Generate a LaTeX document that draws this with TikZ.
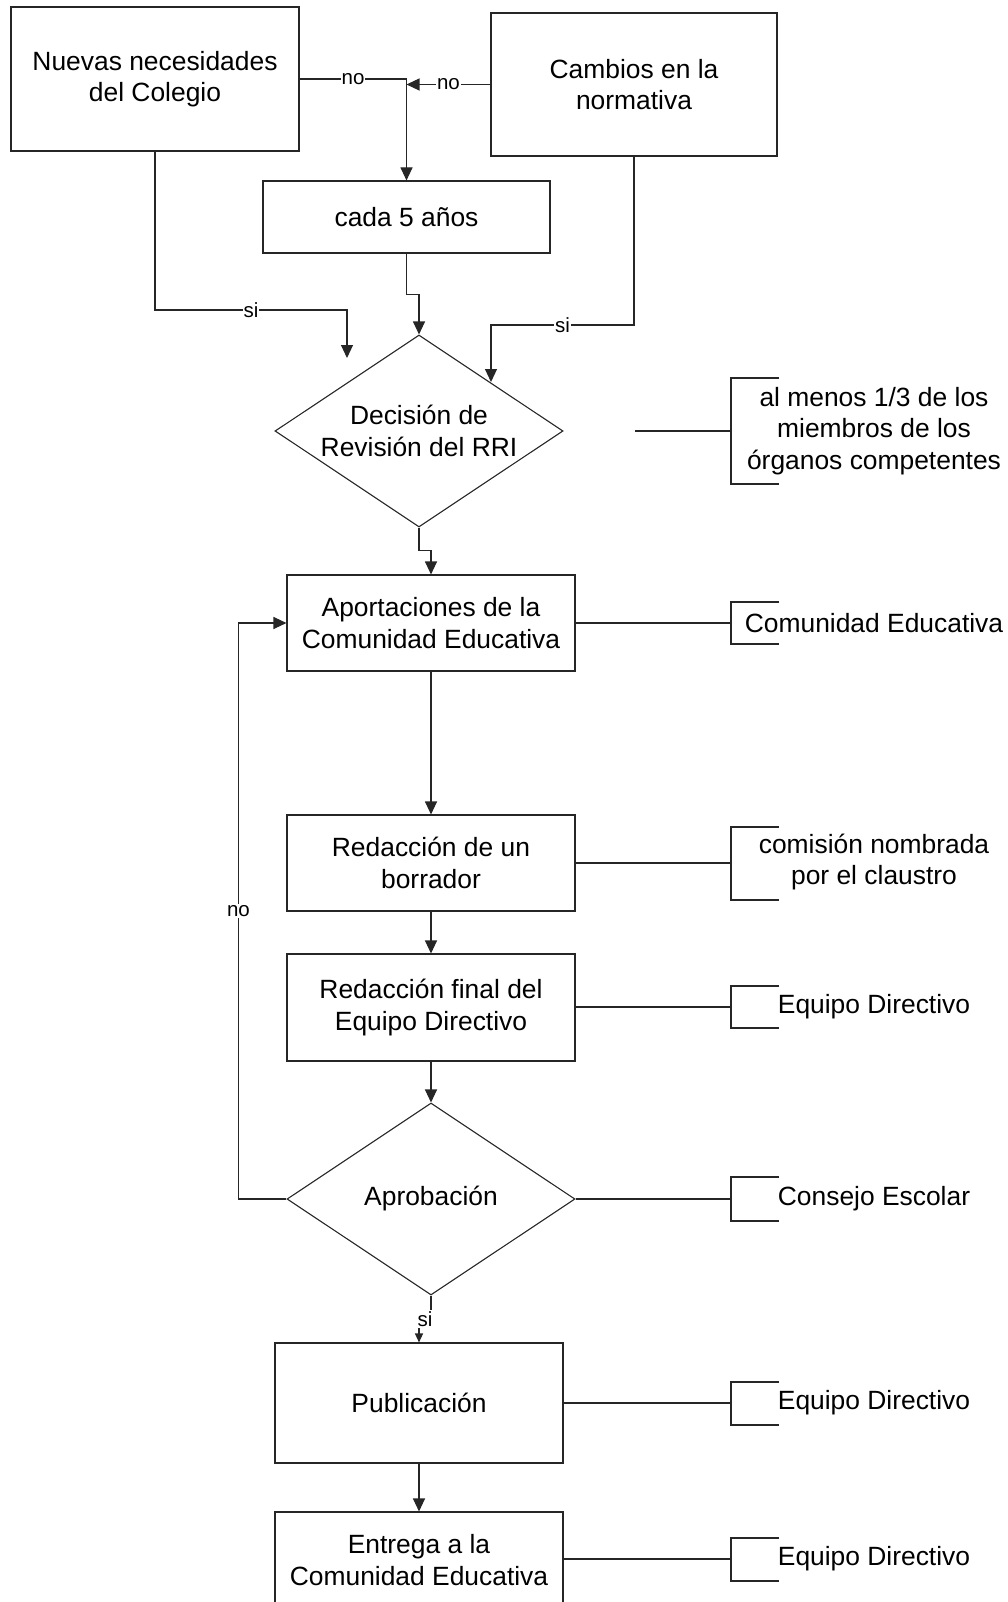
\documentclass[tikz,border=0pt]{standalone}
\usepackage{fontspec}
\setmainfont{Liberation Sans}
\usetikzlibrary{shapes.geometric,arrows.meta,calc}
\begin{document}
\begin{tikzpicture}[x=1pt,y=-1pt,
  ln/.style={draw=black!85, line width=1.1pt},
  box/.style={ln, rectangle, inner sep=0pt, align=center, font=\fontsize{26.4}{31.5}\selectfont},
  dia/.style={ln, diamond, inner sep=0pt, minimum width=288pt, minimum height=192pt},
  txt/.style={align=center, inner sep=0pt, font=\fontsize{26.4}{31.5}\selectfont},
  lbl/.style={fill=white, inner sep=1pt, font=\fontsize{20.5}{24}\selectfont},
  arr/.style={ln, -{Triangle[length=13pt,width=12pt]}},
  sarr/.style={ln, -{Triangle[length=9pt,width=8pt]}},
  brk/.style={ln}
]
\useasboundingbox (0,0) rectangle (1007,1602);
\clip (0,0) rectangle (1007,1602);

% top boxes
\node[box, minimum width=288pt, minimum height=144pt] (nuevas) at (155,79) {Nuevas necesidades\\del Colegio};
\node[box, minimum width=286pt, minimum height=143pt] (cambios) at (634,84.5) {Cambios en la\\normativa};
\node[box, minimum width=287pt, minimum height=72pt] (cada) at (406.5,217) {cada 5 años};

% decision diamond
\node[dia] (dec) at (419,431) {};
\node[txt] (dect) at (dec.center) {Decisión de\\Revisión del RRI};

% main column
\node[box, minimum width=288pt, minimum height=96pt] (apo) at (431,623) {Aportaciones de la\\Comunidad Educativa};
\node[box, minimum width=288pt, minimum height=96pt] (bor) at (431,863) {Redacción de un\\borrador};
\node[box, minimum width=288pt, minimum height=107pt] (fin) at (431,1007.5) {Redacción final del\\Equipo Directivo};
\node[dia] (apr) at (431,1199) {};
\node[txt] (aprt) at (apr.center) {Aprobación};
\node[box, minimum width=288pt, minimum height=120pt] (pub) at (419,1403) {Publicación};
\node[box, minimum width=288pt, minimum height=96pt] (ent) at (419,1560) {Entrega a la\\Comunidad Educativa};

% connectors top
\draw[arr] (nuevas.east) -- node[lbl] {no} (nuevas.east -| cada.north) -- (cada.north);
\draw[arr] (cambios.west) -- node[lbl] {no} (cambios.west -| cada.north);
\draw[arr] (cada.south) -- ++(0,41) -| (dec.north);
\coordinate (n1) at (347,358);
\draw[arr] (nuevas.south) |- node[lbl, pos=0.75] {si} (347,310) -- (n1);
\coordinate (c1) at (491,382);
\draw[arr] (cambios.south) |- node[lbl, pos=0.75] {si} (491,325) -- (c1);
\draw[arr] (dec.south) -- ++(0,23) -| (apo.north);

% main flow
\draw[arr] (apo.south) -- (bor.north);
\draw[arr] (bor.south) -- (fin.north);
\draw[arr] (fin.south) -- (apr.north);
\draw[arr] (apr.west) -- ++(-48,0) |- node[lbl, pos=0.25] {no} (apo.west);
\draw[sarr] (apr.south) -- ++(0,24) -| (pub.north);
\node[lbl] (si3) at (425,1319) {si};
\draw[arr] (pub.south) -- (ent.north);

% right column brackets
\coordinate (s1) at (635,431);
\coordinate (b1) at (731,431);
\draw[brk] (s1) -- (b1);
\draw[brk] (779,378) -- (731,378) -- (731,484) -- (779,484);
\node[txt] (t1) at (874,431) {al menos 1/3 de los\\miembros de los\\órganos competentes};

\coordinate (b2) at (731,623);
\draw[brk] (apo.east) -- (b2);
\draw[brk] (779,602) -- (731,602) -- (731,644) -- (779,644);
\node[txt] (t2) at (874,623) {Comunidad Educativa};

\coordinate (b3) at (731,863);
\draw[brk] (bor.east) -- (b3);
\draw[brk] (779,827) -- (731,827) -- (731,900) -- (779,900);
\node[txt] (t3) at (874,862) {comisión nombrada\\por el claustro};

\coordinate (b4) at (731,1007);
\draw[brk] (fin.east |- b4) -- (b4);
\draw[brk] (779,986) -- (731,986) -- (731,1028) -- (779,1028);
\node[txt] (t4) at (874,1007) {Equipo Directivo};

\coordinate (b5) at (731,1199);
\draw[brk] (apr.east) -- (b5);
\draw[brk] (779,1177) -- (731,1177) -- (731,1221) -- (779,1221);
\node[txt] (t5) at (874,1199) {Consejo Escolar};

\coordinate (b6) at (731,1403);
\draw[brk] (pub.east) -- (b6);
\draw[brk] (779,1382) -- (731,1382) -- (731,1425) -- (779,1425);
\node[txt] (t6) at (874,1403) {Equipo Directivo};

\coordinate (b7) at (731,1559);
\draw[brk] (ent.east |- b7) -- (b7);
\draw[brk] (779,1538) -- (731,1538) -- (731,1581) -- (779,1581);
\node[txt] (t7) at (874,1559) {Equipo Directivo};
\end{tikzpicture}
\end{document}
